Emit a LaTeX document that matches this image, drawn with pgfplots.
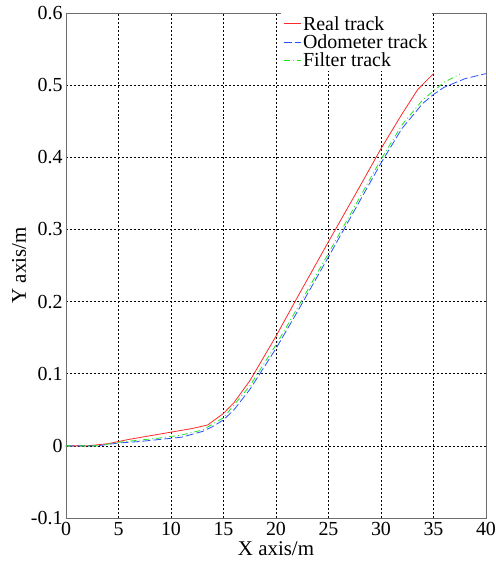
\documentclass[border=0pt]{standalone}
\usepackage{fontspec}
\setmainfont{Liberation Serif}
\usepackage{pgfplots}
\pgfplotsset{compat=1.18}
\definecolor{realred}{RGB}{255,40,40}
\definecolor{odoblue}{RGB}{40,80,255}
\definecolor{filtgreen}{RGB}{30,230,30}
\definecolor{framegray}{RGB}{110,110,110}
\begin{document}
\begin{tikzpicture}
\useasboundingbox (-66bp,-46bp) rectangle (430bp,518bp);
\begin{axis}[
  at={(0,0)}, anchor=south west,
  scale only axis, width=420bp, height=505bp,
  xmin=0, xmax=40, ymin=-0.1, ymax=0.6,
  xtick={0,5,...,40},
  ytick={-0.1,0,0.1,0.2,0.3,0.4,0.5,0.6},
  yticklabels={-0.1,0,0.1,0.2,0.3,0.4,0.5,0.6},
  xticklabels={0,5,10,15,20,25,30,35,40},
  tick align=inside, major tick length=0pt,
  grid=major,
  major grid style={black, line width=0.6pt, dash pattern=on 2pt off 2pt},
  axis line style={framegray, line width=1pt},
  ticklabel style={font=\fontsize{20}{22}\selectfont},
  xticklabel style={yshift=-1bp},
  label style={font=\fontsize{21}{23}\selectfont},
  xlabel={X axis/m}, ylabel={Y axis/m},
  xlabel style={yshift=1bp},
  ylabel style={yshift=-2bp},
  legend style={at={(rel axis cs:0.512,1)}, anchor=north west, draw=none, fill=white,
    font=\fontsize{20}{21}\selectfont, row sep=-1bp,
    inner xsep=2bp, inner ysep=1bp},
  legend cell align=left,
  legend image code/.code={\draw[#1] (0cm,0cm) -- (0.6cm,0cm);},
]
\addplot[realred, line width=0.8pt] coordinates {
 (0,0) (2,0) (4,0.003) (6,0.009) (8,0.014) (10,0.019) (12,0.024) (13.5,0.029)
 (15,0.045) (16,0.06) (17.5,0.09) (20,0.152) (22,0.205) (25,0.283) (28,0.36)
 (30,0.412) (32,0.46) (33.5,0.494) (35,0.516)};
\addlegendentry{Real track}
\addplot[odoblue, line width=0.8pt, dash pattern=on 8pt off 3pt] coordinates {
 (0,0) (3,0) (5,0.004) (7,0.006) (9,0.009) (11,0.012) (13,0.02) (14,0.027)
 (15,0.036) (16,0.05) (17.5,0.078) (20,0.135) (22,0.185) (25,0.262) (28,0.34)
 (30,0.392) (32,0.44) (34,0.475) (35,0.487) (36,0.497) (38,0.509) (40,0.516)};
\addlegendentry{Odometer track}
\addplot[filtgreen, line width=0.8pt, dash pattern=on 6pt off 3pt on 1pt off 3pt] coordinates {
 (0,0) (3,0) (5,0.005) (7,0.008) (9,0.011) (11,0.015) (13,0.022) (15,0.039)
 (17.5,0.083) (20,0.14) (22,0.19) (25,0.267) (28,0.345) (30,0.397) (32,0.445)
 (34,0.48) (35,0.492) (36,0.504) (37.5,0.515)};
\addlegendentry{Filter track}
\end{axis}
\end{tikzpicture}
\end{document}
